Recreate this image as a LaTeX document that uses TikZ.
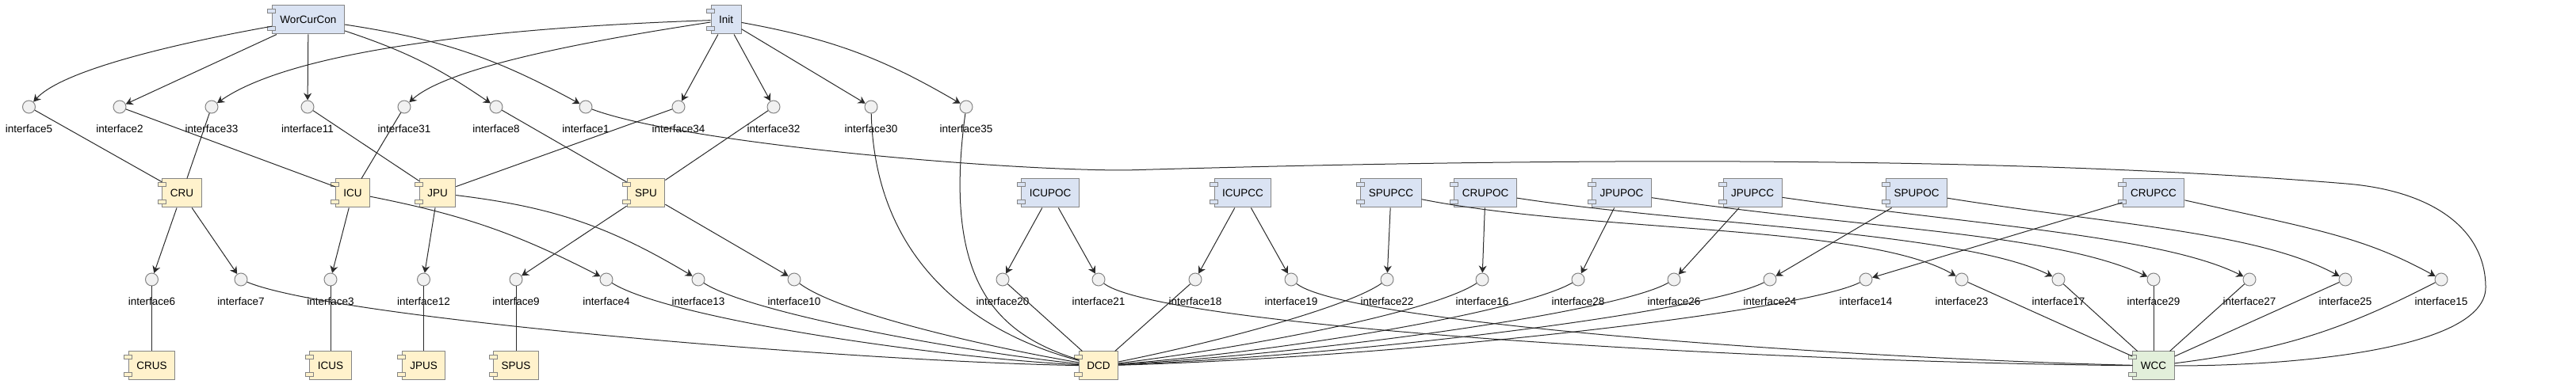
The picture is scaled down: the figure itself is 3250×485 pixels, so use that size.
\documentclass[tikz,border=0pt]{standalone}
\usepackage{fontspec}
\setmainfont{Liberation Sans}
\usetikzlibrary{arrows.meta,calc}
\definecolor{compblue}{HTML}{DAE3F3}
\definecolor{compyellow}{HTML}{FFF2CC}
\definecolor{compgreen}{HTML}{E2EFDA}
\definecolor{ifcfill}{HTML}{F1F1F1}
\definecolor{boxline}{HTML}{858585}
\definecolor{edgegray}{HTML}{2A2A2A}

\begin{document}
\begin{tikzpicture}[x=0.5pt,y=0.5pt,>={Stealth[length=4.5pt,width=5pt]},font=\fontsize{6.75}{8}\selectfont,
  comp/.style={draw=boxline,line width=0.5pt,fill=#1,minimum height=18pt,inner xsep=5pt,inner ysep=0pt},
  ifc/.style={circle,draw=boxline,fill=ifcfill,line width=0.5pt,minimum size=8pt,inner sep=0pt,
    label={[inner sep=0pt,yshift=-7pt]below:#1}},
  arr/.style={->,draw=edgegray,line width=0.5pt},
  wire/.style={draw=edgegray,line width=0.5pt}]
  \useasboundingbox (0,0) rectangle (3250,-485);

  % top row
  \node[comp=compblue] (worcurcon) at (389,-25) {WorCurCon};
  \node[comp=compblue] (init) at (916,-25) {Init};

  \node[ifc=interface5] (i5) at (36.5,-135) {};
  \node[ifc=interface2] (i2) at (151,-135) {};
  \node[ifc=interface33] (i33) at (267,-135) {};
  \node[ifc=interface11] (i11) at (388,-135) {};
  \node[ifc=interface31] (i31) at (510,-135) {};
  \node[ifc=interface8] (i8) at (626,-135) {};
  \node[ifc=interface1] (i1) at (739,-135) {};
  \node[ifc=interface34] (i34) at (856,-135) {};
  \node[ifc=interface32] (i32) at (976,-135) {};
  \node[ifc=interface30] (i30) at (1099,-135) {};
  \node[ifc=interface35] (i35) at (1219,-135) {};

  % middle row
  \node[comp=compyellow] (cru) at (229.5,-244) {CRU};
  \node[comp=compyellow] (icu) at (445,-244) {ICU};
  \node[comp=compyellow] (jpu) at (552,-244) {JPU};
  \node[comp=compyellow] (spu) at (815,-244) {SPU};
  \node[comp=compblue] (icupoc) at (1325,-244) {ICUPOC};
  \node[comp=compblue] (icupcc) at (1568,-244) {ICUPCC};
  \node[comp=compblue] (spupcc) at (1755,-244) {SPUPCC};
  \node[comp=compblue] (crupoc) at (1874,-244) {CRUPOC};
  \node[comp=compblue] (jpupoc) at (2046,-244) {JPUPOC};
  \node[comp=compblue] (jpupcc) at (2211,-244) {JPUPCC};
  \node[comp=compblue] (spupoc) at (2418,-244) {SPUPOC};
  \node[comp=compblue] (crupcc) at (2717,-244) {CRUPCC};

  \node[ifc=interface6] (i6) at (191.5,-353) {};
  \node[ifc=interface7] (i7) at (304,-353) {};
  \node[ifc=interface3] (i3) at (417,-353) {};
  \node[ifc=interface12] (i12) at (534.5,-353) {};
  \node[ifc=interface9] (i9) at (651,-353) {};
  \node[ifc=interface4] (i4) at (765,-353) {};
  \node[ifc=interface13] (i13) at (881,-353) {};
  \node[ifc=interface10] (i10) at (1002,-353) {};
  \node[ifc=interface20] (i20) at (1265,-353) {};
  \node[ifc=interface21] (i21) at (1386,-353) {};
  \node[ifc=interface18] (i18) at (1508,-353) {};
  \node[ifc=interface19] (i19) at (1629,-353) {};
  \node[ifc=interface22] (i22) at (1750,-353) {};
  \node[ifc=interface16] (i16) at (1870,-353) {};
  \node[ifc=interface28] (i28) at (1991,-353) {};
  \node[ifc=interface26] (i26) at (2112,-353) {};
  \node[ifc=interface24] (i24) at (2233,-353) {};
  \node[ifc=interface14] (i14) at (2354,-353) {};
  \node[ifc=interface23] (i23) at (2475,-353) {};
  \node[ifc=interface17] (i17) at (2597,-353) {};
  \node[ifc=interface29] (i29) at (2717,-353) {};
  \node[ifc=interface27] (i27) at (2838,-353) {};
  \node[ifc=interface25] (i25) at (2959,-353) {};
  \node[ifc=interface15] (i15) at (3080,-353) {};

  % bottom row
  \node[comp=compyellow] (crus) at (191.5,-462) {CRUS};
  \node[comp=compyellow] (icus) at (417,-462) {ICUS};
  \node[comp=compyellow] (jpus) at (534.5,-462) {JPUS};
  \node[comp=compyellow] (spus) at (651,-462) {SPUS};
  \node[comp=compyellow] (dcd) at (1386,-462) {DCD};
  \node[comp=compgreen] (wcc) at (2717,-462) {WCC};

  % component ports
  \foreach \nm/\f in {worcurcon/compblue,init/compblue,cru/compyellow,icu/compyellow,jpu/compyellow,
      spu/compyellow,icupoc/compblue,icupcc/compblue,spupcc/compblue,crupoc/compblue,jpupoc/compblue,
      jpupcc/compblue,spupoc/compblue,crupcc/compblue,crus/compyellow,icus/compyellow,jpus/compyellow,
      spus/compyellow,dcd/compyellow,wcc/compgreen}{
    \draw[boxline,fill=\f,line width=0.5pt] ($(\nm.north west)+(-2.5pt,-2.5pt)$) rectangle ++(5pt,-2.5pt);
    \draw[boxline,fill=\f,line width=0.5pt] ($(\nm.south west)+(-2.5pt,2.5pt)$) rectangle ++(5pt,2.5pt);
  }

  % WorCurCon and Init
  \draw[arr] (worcurcon) .. controls +(-140,-25) and +(45,50) .. (i5);
  \draw[arr] (worcurcon) -- (i2);
  \draw[arr] (worcurcon) -- (i11);
  \draw[arr] (worcurcon) to[bend left=8] (i8);
  \draw[arr] (worcurcon) to[bend left=10] (i1);
  \draw[arr] (init) .. controls +(-300,-10) and +(100,70) .. (i33);
  \draw[arr] (init) .. controls +(-130,-20) and +(60,55) .. (i31);
  \draw[arr] (init) -- (i34);
  \draw[arr] (init) -- (i32);
  \draw[arr] (init) -- (i30);
  \draw[arr] (init) to[bend left=10] (i35);

  \draw[wire] (i5) -- (cru);
  \draw[wire] (i2) -- (icu);
  \draw[wire] (i33) -- (cru);
  \draw[wire] (i11) -- (jpu);
  \draw[wire] (i31) -- (icu);
  \draw[wire] (i8) -- (spu);
  \draw[wire] (i34) -- (jpu);
  \draw[wire] (i32) -- (spu);
  \draw[wire] (i30) .. controls +(5,-200) and +(-150,40) .. (dcd);
  \draw[wire] (i35) .. controls +(-30,-220) and +(-130,40) .. (dcd);
  \draw[wire] (i1) .. controls +(120,-45) and (1250,-215) .. (1420,-215)
    .. controls (2000,-198) and (2550,-198) .. (2960,-232)
    .. controls (3070,-241) and (3136,-290) .. (3136,-363)
    .. controls (3136,-440) and (2900,-462) .. (wcc);

  % units
  \draw[arr] (cru) -- (i6);
  \draw[arr] (cru) -- (i7);
  \draw[arr] (icu) -- (i3);
  \draw[arr] (icu) to[bend left=8] (i4);
  \draw[arr] (jpu) -- (i12);
  \draw[arr] (jpu) to[bend left=12] (i13);
  \draw[arr] (spu) -- (i9);
  \draw[arr] (spu) -- (i10);

  \draw[arr] (icupoc) -- (i20);
  \draw[arr] (icupoc) -- (i21);
  \draw[arr] (icupcc) -- (i18);
  \draw[arr] (icupcc) -- (i19);
  \draw[arr] (spupcc) -- (i22);
  \draw[arr] (spupcc) .. controls +(250,-50) and +(-120,70) .. (i23);
  \draw[arr] (crupoc) -- (i16);
  \draw[arr] (crupoc) .. controls +(260,-40) and +(-120,60) .. (i17);
  \draw[arr] (jpupoc) -- (i28);
  \draw[arr] (jpupoc) .. controls +(300,-45) and +(-130,60) .. (i29);
  \draw[arr] (jpupcc) -- (i26);
  \draw[arr] (jpupcc) .. controls +(280,-40) and +(-110,55) .. (i27);
  \draw[arr] (spupoc) -- (i24);
  \draw[arr] (spupoc) .. controls +(250,-40) and +(-110,60) .. (i25);
  \draw[arr] (crupcc) -- (i14);
  \draw[arr] (crupcc) .. controls +(200,-45) and +(-100,55) .. (i15);

  % bottom links
  \draw[wire] (i6) -- (crus);
  \draw[wire] (i3) -- (icus);
  \draw[wire] (i12) -- (jpus);
  \draw[wire] (i9) -- (spus);
  \draw[wire] (i7) .. controls +(120,-50) and +(-300,5) .. (dcd);
  \draw[wire] (i4) .. controls +(80,-50) and +(-200,10) .. (dcd);
  \draw[wire] (i13) .. controls +(70,-45) and +(-150,15) .. (dcd);
  \draw[wire] (i10) .. controls +(60,-45) and +(-120,20) .. (dcd);
  \draw[wire] (i20) -- (dcd);
  \draw[wire] (i18) -- (dcd);
  \draw[wire] (i22) .. controls +(-50,-35) and +(150,30) .. (dcd);
  \draw[wire] (i16) .. controls +(-60,-40) and +(200,25) .. (dcd);
  \draw[wire] (i28) .. controls +(-70,-40) and +(250,20) .. (dcd);
  \draw[wire] (i26) .. controls +(-70,-40) and +(300,18) .. (dcd);
  \draw[wire] (i24) .. controls +(-80,-40) and +(350,15) .. (dcd);
  \draw[wire] (i14) .. controls +(-80,-40) and +(400,12) .. (dcd);
  \draw[wire] (i21) .. controls +(80,-60) and +(-500,5) .. (wcc);
  \draw[wire] (i19) .. controls +(70,-55) and +(-400,10) .. (wcc);
  \draw[wire] (i23) -- (wcc);
  \draw[wire] (i17) -- (wcc);
  \draw[wire] (i29) -- (wcc);
  \draw[wire] (i27) -- (wcc);
  \draw[wire] (i25) -- (wcc);
  \draw[wire] (i15) to[bend left=10] (wcc);
\end{tikzpicture}
\end{document}
